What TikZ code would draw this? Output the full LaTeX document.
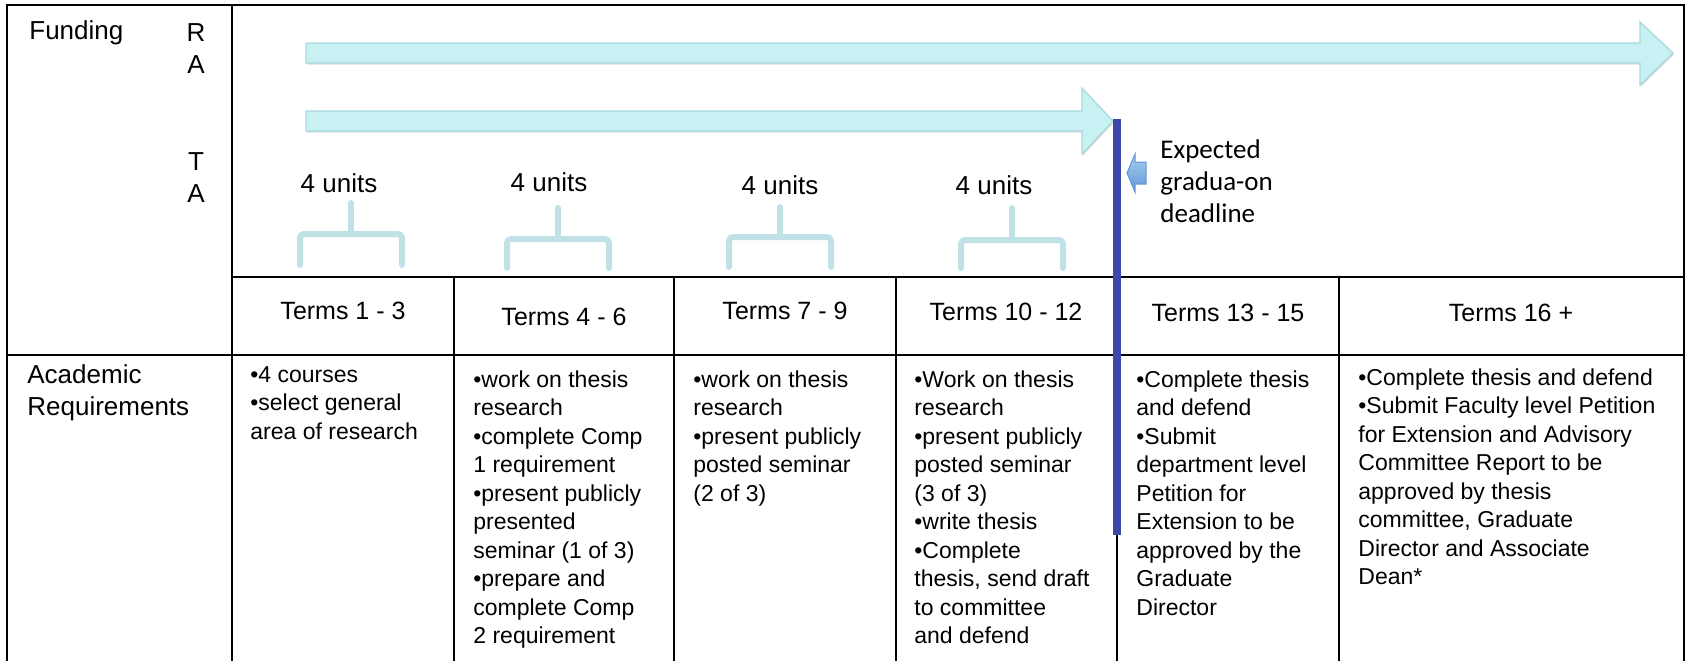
\documentclass[tikz,border=0pt]{standalone}
\usepackage{fontspec}
\setmainfont{Liberation Sans}
\newfontfamily\calfont{Carlito}
\usepackage{xcolor}
\usepackage{tikz}
\usetikzlibrary{positioning,shadows}

\definecolor{bandfill}{RGB}{200,241,244}
\definecolor{banddraw}{RGB}{168,216,222}
\definecolor{bracecol}{RGB}{192,226,231}
\definecolor{deadline}{RGB}{63,70,170}
\definecolor{ptrlight}{RGB}{170,205,240}
\definecolor{ptrdark}{RGB}{95,150,215}

\begin{document}
\begin{tikzpicture}[
  x=0.5pt, y=-0.5pt,
  tabline/.style = {line width=1.4pt, line cap=rect},
  lbl/.style     = {inner sep=0pt, font=\fontsize{13}{16}\selectfont, align=center},
  hdr/.style     = {inner sep=0pt, font=\fontsize{12.5}{15}\selectfont},
  req/.style     = {inner sep=0pt, align=left, anchor=north west,
                    font=\fontsize{11.5}{14.25}\selectfont},
  note/.style    = {inner sep=0pt, align=left, anchor=west,
                    font=\calfont\fontsize{13.5}{16}\selectfont},
  band/.style    = {draw=banddraw, fill=bandfill, line width=0.6pt,
                    drop shadow={shadow xshift=0.5pt, shadow yshift=-0.8pt,
                                 opacity=0.3, fill=black!45}},
  brk/.style     = {draw=bracecol, line width=3pt, rounded corners=2pt, line cap=round},
  ptr/.style     = {draw=ptrdark, line width=0.5pt, top color=ptrlight, bottom color=ptrdark},
]
\useasboundingbox (0,0) rectangle (1687,660);

% ---------- table ----------
\draw[tabline] (7,660) -- (7,5) -- (1684,5) -- (1684,660);
\draw[tabline] (232,5) -- (232,660);
\draw[tabline] (232,277) -- (1684,277);
\draw[tabline] (7,355) -- (1684,355);
\foreach \x in {454,674,896,1117,1339}
  \draw[tabline] (\x,277) -- (\x,660);

% ---------- funding ----------
\node[lbl, anchor=west] (fund) at (29,33) {Funding};
\node[lbl] (ra) at (196,49)  {R\\A};
\node[lbl] (ta) at (196,178) {T\\A};

\draw[band] (306,43) -- (1640,43) -- (1640,22) -- (1673,53)
            -- (1640,85) -- (1640,63) -- (306,63) -- cycle;
\draw[band] (306,111) -- (1082,111) -- (1082,88) -- (1113,121)
            -- (1082,154) -- (1082,131) -- (306,131) -- cycle;

% ---------- units ----------
\node[lbl] (u1) at (339,183) {4 units};
\node[lbl] (u2) at (549,182) {4 units};
\node[lbl] (u3) at (780,185) {4 units};
\node[lbl] (u4) at (994,185) {4 units};

\foreach \xl/\xm/\xr/\yt/\yb/\ye in {300/351/402/203/234/265, 507/558/609/208/239/268,
                                      729/780/831/207/237/267, 961/1012/1063/208/240/268}{
  \draw[brk] (\xl,\ye) -- (\xl,\yb) -- (\xr,\yb) -- (\xr,\ye);
  \draw[brk] (\xm,\yb) -- (\xm,\yt);
}

% ---------- deadline ----------
\draw[deadline, line width=4pt] (1117,119) -- (1117,535);
\draw[ptr] (1127,173) -- (1135,154) -- (1135,162) -- (1146,162)
           -- (1146,184) -- (1135,184) -- (1135,192) -- cycle;
\node[note] (grad) at (1160,181) {Expected\\gradua-on\\deadline};

% ---------- terms ----------
\node[hdr] (t1) at (343,311)  {Terms 1 - 3};
\node[hdr] (t2) at (564,317)  {Terms 4 - 6};
\node[hdr] (t3) at (785,311)  {Terms 7 - 9};
\node[hdr] (t4) at (1006,312) {Terms 10 - 12};
\node[hdr] (t5) at (1228,313) {Terms 13 - 15};
\node[hdr] (t6) at (1511,313) {Terms 16 +};

% ---------- requirements ----------
\node[lbl, anchor=west, align=left] (acad) at (27,393) {Academic\\Requirements};

\node[req] (r1) at (250,366)  {•4 courses\\•select general\\area of research};
\node[req] (r2) at (473,370)  {•work on thesis\\research\\•complete Comp\\1 requirement\\
                                •present publicly\\presented\\seminar (1 of 3)\\•prepare and\\
                                complete Comp\\2 requirement};
\node[req] (r3) at (693,370)  {•work on thesis\\research\\•present publicly\\posted seminar\\(2 of 3)};
\node[req] (r4) at (914,370)  {•Work on thesis\\research\\•present publicly\\posted seminar\\
                                (3 of 3)\\•write thesis\\•Complete\\thesis, send draft\\
                                to committee\\and defend};
\node[req] (r5) at (1136,370) {•Complete thesis\\and defend\\•Submit\\department level\\
                                Petition for\\Extension to be\\approved by the\\Graduate\\Director};
\node[req] (r6) at (1358,368) {•Complete thesis and defend\\•Submit Faculty level Petition\\
                                for Extension and Advisory\\Committee Report to be\\
                                approved by thesis\\committee, Graduate\\Director and Associate\\Dean*};

\end{tikzpicture}
\end{document}
